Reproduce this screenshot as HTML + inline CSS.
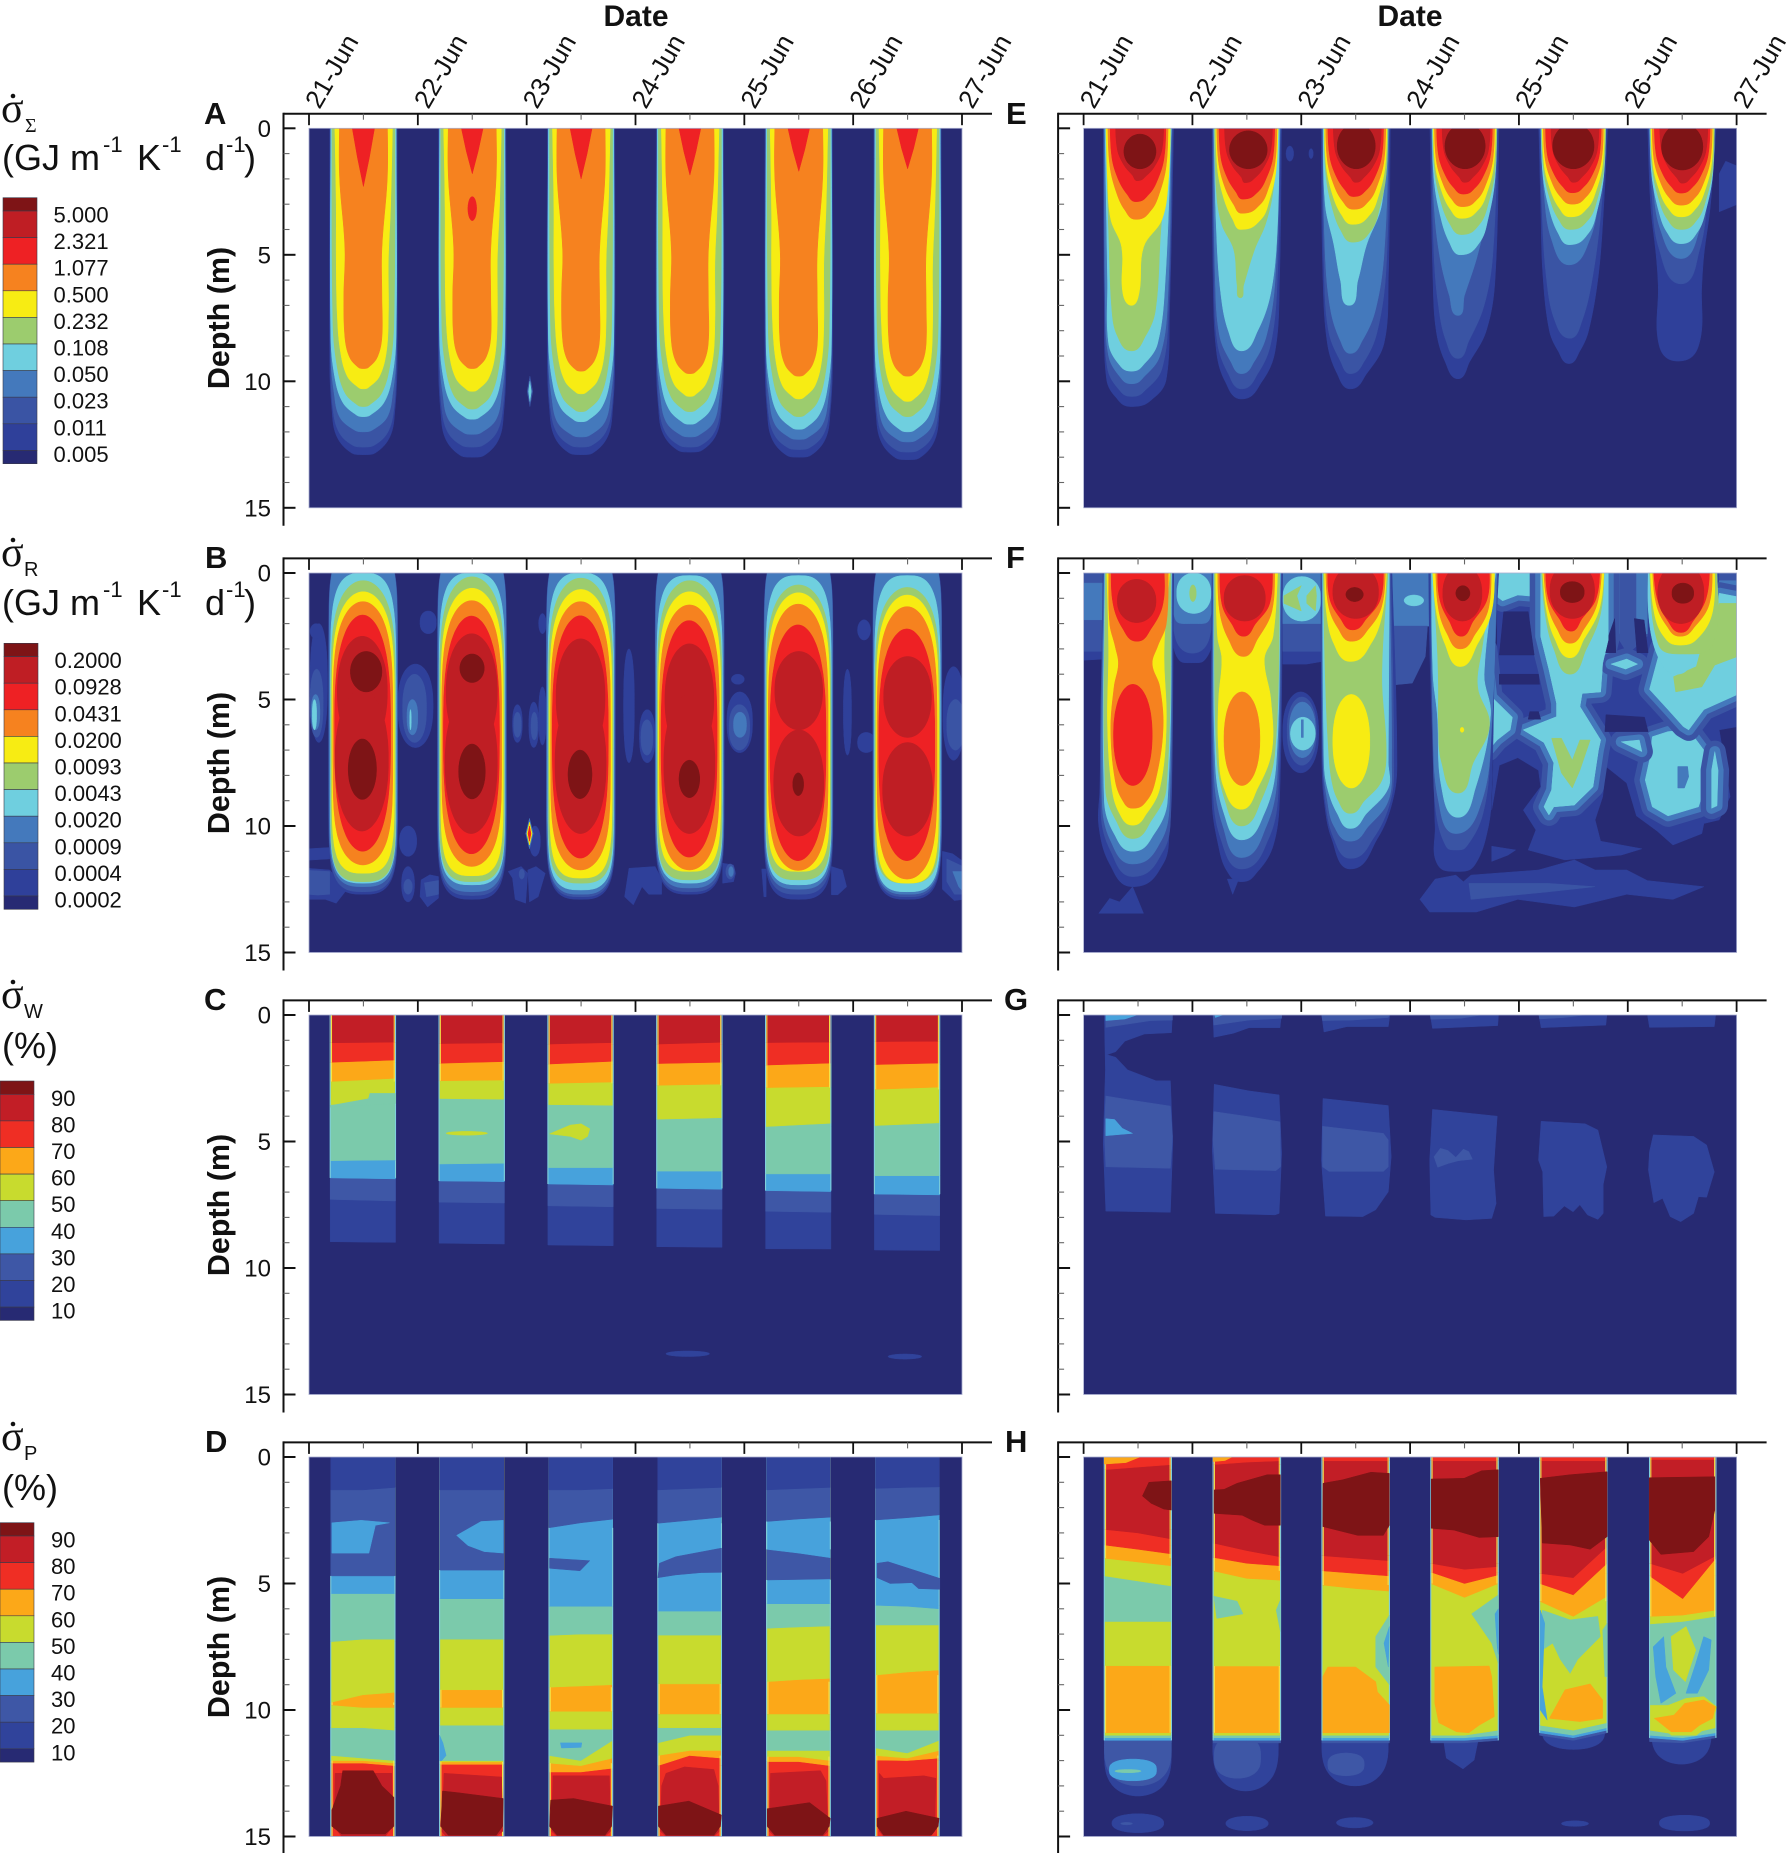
<!DOCTYPE html>
<html lang="en">
<head>
<meta charset="utf-8">
<title>Entropy production contour panels</title>
<style>
html,body{margin:0;padding:0;background:#fff;}
svg{display:block;}
text{font-family:"Liberation Sans",sans-serif;fill:#111;}
.ser{font-family:"Liberation Serif",serif;}
.b{font-weight:bold;}
</style>
</head>
<body>
<svg id="chart" xmlns="http://www.w3.org/2000/svg" width="1791" height="1853" viewBox="0 0 1791 1853">
<rect width="1791" height="1853" fill="#fff"/>
<text class="b" x="636" y="26" font-size="30" text-anchor="middle">Date</text>
<text class="b" x="1410" y="26" font-size="30" text-anchor="middle">Date</text>
<g font-size="31">
<text class="b" x="204" y="124">A</text>
<text class="b" x="205" y="568">B</text>
<text class="b" x="204" y="1010">C</text>
<text class="b" x="205" y="1452">D</text>
<text class="b" x="1006" y="124">E</text>
<text class="b" x="1006" y="568">F</text>
<text class="b" x="1004" y="1010">G</text>
<text class="b" x="1005" y="1452">H</text>
</g>
<g font-size="30.5">
<text class="b" transform="translate(229,318) rotate(-90)" text-anchor="middle">Depth (m)</text>
<text class="b" transform="translate(229,763) rotate(-90)" text-anchor="middle">Depth (m)</text>
<text class="b" transform="translate(229,1205) rotate(-90)" text-anchor="middle">Depth (m)</text>
<text class="b" transform="translate(229,1647) rotate(-90)" text-anchor="middle">Depth (m)</text>
</g>
<g>
<circle cx="13" cy="96" r="2.3" fill="#111"/>
<text class="ser" x="1" y="122" font-size="42">σ</text>
<text class="ser" x="25" y="132" font-size="20">Σ</text>
<text x="2" y="170" font-size="36">(GJ m</text>
<text x="103" y="152" font-size="22">-1</text>
<text x="137" y="170" font-size="36">K</text>
<text x="162" y="152" font-size="22">-1</text>
<text x="205" y="170" font-size="36">d</text>
<text x="226" y="152" font-size="22">-1</text>
<text x="244" y="170" font-size="36">)</text>
</g>
<g>
<circle cx="13" cy="540" r="2.3" fill="#111"/>
<text class="ser" x="1" y="566" font-size="42">σ</text>
<text x="24" y="576" font-size="20">R</text>
<text x="2" y="615" font-size="36">(GJ m</text>
<text x="103" y="597" font-size="22">-1</text>
<text x="137" y="615" font-size="36">K</text>
<text x="162" y="597" font-size="22">-1</text>
<text x="205" y="615" font-size="36">d</text>
<text x="226" y="597" font-size="22">-1</text>
<text x="244" y="615" font-size="36">)</text>
</g>
<g>
<circle cx="13" cy="982" r="2.3" fill="#111"/>
<text class="ser" x="1" y="1008" font-size="42">σ</text>
<text x="24" y="1018" font-size="20">W</text>
<text x="2" y="1058" font-size="36">(%)</text>
</g>
<g>
<circle cx="13" cy="1424" r="2.3" fill="#111"/>
<text class="ser" x="1" y="1450" font-size="42">σ</text>
<text x="24" y="1460" font-size="20">P</text>
<text x="2" y="1500" font-size="36">(%)</text>
</g>
</svg>
<script>
// Units used by all shape arrays: t = hundredths of a day since 21-Jun, d = decimetres of depth.
const dateLabels = ['21-Jun','22-Jun','23-Jun','24-Jun','25-Jun','26-Jun','27-Jun'];
const depthTicks = [0,5,10,15];
const legendSigma = ['5.000','2.321','1.077','0.500','0.232','0.108','0.050','0.023','0.011','0.005'];
const legendReversible = ['0.2000','0.0928','0.0431','0.0200','0.0093','0.0043','0.0020','0.0009','0.0004','0.0002'];
const legendPercent = ['90','80','70','60','50','40','30','20','10'];
const ratePalette = ['#272a73','#2f409a','#3a54a4','#4479bc','#6fcfdf','#9ccc6e','#f7ec13','#f6821f','#ee2124','#bf1e24','#7e1416'];
const pctPalette = ['#272a73','#30439b','#3e57a6','#47a2dc','#7bcaab','#c8db2e','#fca818','#ef2e24','#c21e26','#7e1416'];

/* ---------- Panel A: level, profile rows [% of bottom, left, right] ---------- */
const aProfiles = [
[1,[-5,19,81,72,19,81,86,21,79,94,25,75,99,37,63,100,50,50]],
[2,[-5,19.5,80.5,75,20,80,88,22,78,95,27,73,99,38,62,100,50,50]],
[3,[-5,20,80,75,20,80,87,23,77,95,28,72,99,40,60,100,50,50]],
[4,[-5,20,80,72,20,80,87,24,76,95,31,69,99,42,58,100,50,50]],
[5,[-5,21,79,70,22,78,86,26,74,95,33,67,99,43,57,100,50,50]],
[6,[-5,23.5,77,30,25,75,50,25,73,72,26,73,86,29,71,95,35,65,99,44,56,100,50,50]],
[7,[-5,28,72,20,28,72,50,33,67,70,32,67,87,33,67,95,37,63,99,44,56,100,50,50]]];
const aTips = [39,61,44.5,55.5,50];
const aBottoms = [
[129,130,129,128,130,131],[126,126,126,126,127,128],[120,121,122,122,123,124],
[114,115,116,117,119,120],[110,111,112,112,114,114],[103,104,105,106,107,108],
[95,95,96,97,98,98]];
const aTipDepths = [23,18,20,18.5,17,16];
const aExtras = [
['o',8,146,154,27,36.5,2],
['p',2,[203,98,205.5,104,203,110,200.5,104]],
['p',4,[203,100,204.3,104,203,108,201.7,104]]];

/* ---------- Panel B ---------- */
const bWidths = [[1,18,81.5],[2,18.2,81.3],[3,18.5,81],[4,19.5,80],[5,20,79.5],[6,21,78.5],[7,22,77],[8,23.5,75]];
const bTops = [[-10,-10,-10,-10,-10,-10],[-10,-10,-10,-10,-10,-10],[-10,-10,-10,-10,-10,-10],[0,0,0,1,1,1],[3,1.5,2,3,4.7,5.7],[7.4,6,6.5,7.4,7.8,8.7],[11.3,10.9,11.3,12.6,12.3,13.3],[16.6,17,16.9,18.8,20.5,22.1]];
const bBottoms = [[127,129,129,127,129,129],[126,127.5,128,126,127,128],[124,126,127,124.5,125,127],[122.6,123.3,125.3,122.6,123.3,126],[122,122,122.6,121.3,121.3,122.6],[118.7,119.7,120.6,118,118,122.6],[115.4,116,117.4,117.4,117.6,121],[110,111,112.7,112.3,113.7,113.7]];
const bTopExponents = [9,9,9,6,5,4.5,4,3];
const bBottomExponents = [9,9,9,9,9,7,5,3];
const bLobes = [[26,72,25,69],[24,73,46,102],[26,73,24,70],[25,73,47,103],[27,72,26,72],[26,73,48,103],[27,72,28,72],[26,73,48,103],[28,72,31,62],[27,73,62,104],[28,72,33,65],[27,73,67,104]];
const bDark = [[38,67,31,47,0],[36,62,65.6,89.5,0],[38.6,61,32,43.3,1],[37.5,62,67.6,89.3,1],[38,60,70,89.2,2],[40,59,74,88.8,3],[44.5,54.5,79,88,4]];
const bBackground = [
['p',1,[-1,116.7,19,117.4,35,125,25,130.5,15,129,-1,129]],['p',2,[-1,117.5,19,118,19,127,8,127.3,-1,127]],['p',1,[-1,109,19,108.5,19,113,-1,113.5]],
['o',1,85,97,116,130,2.2],['o',2,87,95,121,127,2],['o',1,83,99,100,112,2.2],
['p',1,[103,121.3,111,119.3,119,120,119,128.5,109,132,102,127.9]],['p',2,[106,122.5,119,121.5,119,127,108,128]],
['p',1,[183,118,195,116,201,118.7,199,130.5,189.5,129,187,120.6]],['p',1,[201,117.4,208.6,116,217,118.7,210.6,128,202.6,130]],['o',2,193,198,117,121,2],['o',1,202.6,212.6,100,112,2.2],
['p',1,[294,116.7,318,116,324,121,324,127,312,127,306,124,298,131.2,290,128]],
['p',1,[380,114.7,390,115.4,392,118.7,390,122,380,122.6]],['o',2,383,391,115,121,2],['o',3,385.5,390,116,120,2],
['p',1,[416,117,420,117,420,128,418,128]],['p',1,[480,116,490,117.4,494,124,486,127.2,480,127.2]],
['p',1,[582,110,591.5,111,601,114,601,129,593,129.5,582,125]],['p',2,[586,113,601,116,601,127,593,127,586,122]],['p',3,[591.5,118,601,118,601,126,597,124]],
['o',1,1,17,20,67,2.5],['o',2,1,13,38,65,2.5],['o',3,2,10,48,62,2.5],['o',4,3,7,50,62,2.5],
['o',1,81.6,114,36,69,2.5],['o',2,86,108,40,67,2.5],['o',3,90,100,50,64,2.5],['o',4,92.5,94,54,62,2],
['o',1,187,196,52,67,2.5],['o',2,188,195,55,65,2.5],['o',1,202,211,51,69,2.5],['o',2,204,210,55,66,2.5],['o',1,211,218,45,68,2.5],
['o',1,102,117,15,24,2.5],['o',1,1,12,20,26,2],['o',1,211,218,16,24,2],
['o',1,289,299,30,75,2.5],['o',1,303.6,318,54,75,2.5],['o',2,305,316,58,72,2.5],
['o',1,384,407.5,47,71,2.5],['o',2,386,405,52,70,2.5],['o',3,390,402,55,65,2.5],['o',1,388,400,40,44,2],
['o',1,491,498.5,38,72,2.5],['o',1,504,520,63,71,2.5],['o',1,504,516,18.5,26.5,2],
['o',1,582.5,602,37,74,2.5],['o',2,586,602,50,70,2.5]];
const bDiamond = [
['p',3,[202.6,97,206,103,202.6,109,199.2,103]],
['p',6,[202.6,98.5,205,103,202.6,107.5,200.2,103]],
['p',8,[202.6,100,204,103,202.6,106,201.2,103]]];

/* ---------- Panel C: per day [day, left, right, bands [level, dLeft, dRight]] ---------- */
const cStacks = [
[0,19.5,79.5,[[8,11,10.7],[7,18.7,17.8],[6,26.3,25],[5,35.6,31],[4,57.6,57.3],[3,64.4,64.8],[2,72.9,73.5],[1,89.6,89.9]]],
[1,19.5,79.5,[[8,11.3,11],[7,19.1,18.4],[6,26,25.7],[5,33,33.3],[4,58.9,58.6],[3,65.6,65.9],[2,74,74.3],[1,90.2,90.5]]],
[2,19.5,79.5,[[8,11.5,10.9],[7,19.4,18.3],[6,27,26.5],[5,35.4,35.7],[4,60.3,60.3],[3,66.8,67.2],[2,75.4,75.8],[1,90.9,91.2]]],
[3,19.5,79.5,[[8,11.5,10.8],[7,19.2,18.7],[6,27.8,27.3],[5,41.2,40.6],[4,61.7,61.7],[3,68.5,68.9],[2,76.5,76.8],[1,91.6,91.8]]],
[4,19.5,79.5,[[8,10.9,10.7],[7,19.8,19],[6,28.7,28.3],[5,44.1,42.8],[4,62.8,62.8],[3,69.4,69.8],[2,77.6,78],[1,92.4,92.5]]],
[5,19.5,79.5,[[8,10.5,10.4],[7,19.6,19],[6,29.4,28.5],[5,43.7,42.6],[4,63.5,63.5],[3,70.8,71.1],[2,78.8,79.3],[1,92.9,93.1]]]];
const cExtras = [
['p',4,[19.5,35.6,53,35.6,56,31,79.5,31,79.5,35,19.5,36.5]],
['o',5,126,164,46,47.5,2],
['p',5,[221,47,240,43.5,250,43,258,45,256,48,250,49.5,240,48]],
['o',1,328,368,132.8,135,2],['o',1,532,563,134,136,2]];

/* ---------- Panel D ---------- */
const dStacks = [
[0,20,79,[[1,13,13,12],[2,47,47,47],[3,54,54,54],[4,73,72,72],[5,97,94,93],[6,98,99,99],[5,107,107,108],[4,118,119,120],[5,120,120,121],[6,121,121,122],[7,152,152,152]]],
[1,20,79,[[1,13,13,13],[2,44.7,44.7,44.7],[3,56,56,56],[4,72,72,72],[5,92,92,92],[6,99,99,99],[5,106,106,106],[4,120,120,120],[5,120.5,120.5,120.5],[6,121.5,121.5,121.5],[7,152,152,152]]],
[2,20.5,79,[[1,13,13,12.5],[2,28,26,24.6],[3,59,59,59],[4,70.5,70,70],[5,91,90.5,90],[6,100.5,100.5,100.5],[5,107.6,107.6,107.6],[4,118,120,112],[5,121,122,119],[6,124.5,124.5,123],[7,152,152,152]]],
[3,20.5,79,[[1,13,12.5,12],[2,26.2,25,23.8],[3,60.9,60.9,60.9],[4,70.4,70.4,70.4],[5,89.7,89.7,89.7],[6,101.6,101.6,101.6],[5,107,107,107],[4,113,110,110],[5,118,116,116],[6,122,118,119],[7,152,152,152]]],
[4,20.5,79,[[1,13,12.5,12],[2,25.5,24.5,23.8],[3,36.5,38,39.8],[2,48.6,48.4,48.2],[3,58,58,58],[4,67.7,67.2,66.8],[5,88.8,88,87.5],[6,101.6,101.6,101.6],[5,108,108,108],[4,116,116,116],[5,118.4,118.4,120],[6,120.4,120.4,122],[7,152,152,152]]],
[5,20.5,79,[[1,12.4,12,11.8],[2,24.9,24,22.9],[3,58.6,59,60],[4,66.4,66.4,66.4],[5,86.2,85,84.2],[6,101.3,101.3,101.3],[5,108,108,108],[4,115,117,112],[5,118,119,116],[6,119.8,120,119],[7,152,152,152]]]];
const dExtras = [
['p',3,[21,26,48,25,74,26,61,27,55,38,21,38]],
['p',3,[135.6,31,158,25.5,178.5,25,178.5,38,161,37.4,146,35]],
['p',2,[221,40,258,41,249,45,221,44]],
['p',3,[231,113,250.7,113,250,114.8,232,115]],
['p',3,[120,110,123,113,126,118,122,120,120,120]],
['p',2,[322,42,337,39.4,379,36,379,45.6,360.5,45.7,337,46.6,320.6,47.7]],
['p',2,[522,42,532,41.4,579.6,48,579.6,52.3,560,52,554,49.7,534,50,522,47.7]],
['p',8,[24,125,76,125,77,146,70,150,30,150,23,146]],
['p',8,[124,125,177,126.5,178,148,172,150,126,150,122,148]],
['p',8,[224,126,276,126,277,148,272,150,228,150,223,148]],
['p',8,[324,130,328,125,345,122.5,372,123.5,376,130,377,148,372,150,328,150,323,148]],
['p',8,[424,125,470,124,475,128,477,148,472,150,428,150,423,148]],
['p',8,[524,125,528,127,565,126,576,127,575,148,570,150,528,150,524,148]],
['p',9,[31,124,59,124,67,130,78,134.5,78,146,70,149,30,149,21,146,21,139.5,29,130]],
['p',9,[122.7,132,137,132.7,178.5,135,178,146,172,149.5,128,149.5,121,146]],
['p',9,[222,135.6,243,135,279,138,278,146,272,149.5,228,149.5,221,146]],
['p',9,[321,138,349,136,379,141.5,378,146,372,149.5,328,149.5,321,146]],
['p',9,[421,139,460,136.6,479,142.8,478,146,472,149.5,428,149.5,421,146]],
['p',9,[522,142.8,548.5,140,579,142.8,578,146,572,149.5,528,149.5,522,146]]];

/* ---------- Panel E: [level, day, rows [d, left, right]] ---------- */
const eRows = [
[1,0,[-5,18,83,72,19,79,99,21,76,106,29,66,110,44,44]],[2,0,[-5,18.5,82,72,19.5,78,95,22,72,103,32,58,106,44,44]],
[3,0,[-5,19,81,70,20,77,90,23,70,98,33,56,101,44,44]],[4,0,[-5,19.5,81,60,22,75,85,23,68,93,32,56,96,44,44]],
[5,0,[-5,20,80.5,40,23,71,72,26,66,82,31,57,88,44,44]],[6,0,[-5,20.5,80,20,22,78,36,25,72,47,35,55,65,36,51,70,44,44]],
[1,1,[-5,18,82,60,19,80,88,22,76,100,30,64,107,45,45]],[2,1,[-5,18.5,81,60,20,78,85,23,72,97,33,60,103,45,45]],
[3,1,[-5,19,81,60,21,76,82,25,68,92,35,57,97,45,45]],[4,1,[-5,19.5,80,40,22,78,65,26,72,80,33,60,88,45,45]],
[5,1,[-5,20,80,25,22,74,38,27,67,48,38,57,62,41,47,67,44,44]],
[1,2,[-5,18,82,60,20,80,85,24,76,97,33,60,103,45,45]],[2,2,[-5,19,81,55,21,78,80,25,70,92,36,58,97,45,45]],
[3,2,[-5,19.5,81,50,22,76,72,27,68,84,36,56,89,45,45]],[4,2,[-5,20,80,30,22,74,46,30,60,60,36,52,70,44,44]],
[1,3,[-5,18,82,60,21,78,80,24,70,92,32,55,99,44,44]],[2,3,[-5,19,81,50,22,76,70,26,68,84,33,54,91,44,44]],
[3,3,[-5,19.5,80,30,22,72,50,27,62,66,36,50,74,44,44]],
[1,4,[-5,18,82,30,20,78,58,22,73,80,28,64,88,36,56,93,46,46]],[2,4,[-5,19,81,30,21,76,58,25,68,76,33,58,83,47,47]],
[3,4,[-5,19.5,80,25,23,74,44,30,65,54,46,46]],
[1,5,[-5,18,82,30,21,76,50,26,70,62,28,68,86,29,65,92,46,46]],[2,5,[-5,19,81,25,22,74,48,29,66,61.5,49,49]],
[3,5,[-5,19.5,80,20,23,75,40,30,66,51.5,49,49]]];
const eCaps = [
[4,20,80,[null,null,null,50,46,45.6],[47,45,45,46,46,49]],
[5,20.5,80,[null,null,45,42,40,40],[47,45,47,47,47,49]],
[6,21,79,[null,40,38,35.6,35,35],[47,44,47,47,47,49]],
[7,22,78,[36,33.6,32,31,30,30.4],[48,45,48,48,49,49]],
[8,24,76,[29,28,27,26,25.5,25.6],[48,46,48,49,49,49]],
[9,29,74,[20.7,21.5,21.4,21.4,21.4,21.7],[49,48,50,50,50,50]]];
const eCores = [[37,66.5,2.3,16],[134,168.7,1,16],[233,268,-2,16],[332,369,-2,16],[431,469,-2,16],[531,569,-2,16.5]];
const eExtras = [['p',1,[584,18,590,13,601,15,601,30,584,33]],['o',1,186,193,7,13,2],['o',1,207,211,8,12,2]];

/* ---------- Panel F: ordered shapes ---------- */
const fShapes = [
['p',1,[-1,-1,20,-1,20,34,-1,34.5]],['p',2,[-1,-1,20,-1,20,31,-1,31]],['p',3,[-1,4,20,4,20,18.5,-1,18.5]],
['r',1,0,[-5,80,120,25,82,119,34,87,112,35.5,100,100]],['r',2,0,[-5,80,120,25,84,116,31.7,100,100]],['r',3,0,[-5,80,120,18,84,116,20,100,100]],
['o',4,85.5,117,0,16,2.4],['o',5,97.4,103.5,4.7,11.3,2],
['p',1,[183,-1,219,-1,219,35,205,36,183,36]],['p',2,[183,-1,219,-1,219,31,183,31]],['p',3,[183,-1,219,-1,219,20,183,20]],
['o',4,183,218,1.4,19,2.4],['p',5,[184,9,200,5,196,9,200,15,184,12]],['p',5,[205,9,213,5,214,9,213,15,205,12]],
['o',1,183,216,47,79,2.3],['o',2,187,214,49,76,2.3],['o',3,189,213,51,73,2.3],['o',4,190,213,57,70,2],['p',3,[200,58,202,58,202,65,200,65]],
['p',3,[283,-1,318,-1,318,21,283,21]],['p',2,[283,21,316,21,314,33,302,43.5,283,44.3]],['o',4,294.5,312.5,8.7,13,2],
['p',1,[380,-1,601,-1,601,60.7,584,62,594,88.4,584,97.6,570,99,568,103,541.5,107.5,527,102,508,96,499,83,480,76.5,477,88.4,470,97.6,475,106,513,109,494,111.5,442,113.4,408.5,109.5,415.6,101.6,404,93.7,420,84.5,418,78,399,73,382,76,375,93.7,380,30]],
['p',1,[309,129,323,121,342,119.4,349,122,356,119.4,418,117.4,451,113.4,470,117.4,499,117.4,518,121.6,570,124,541.5,129,499,127,451,132,399,129,361,134,318,134]],
['p',2,[354,122.7,427.5,122.7,470,124,427.5,126,356,129]],
['p',2,[482,-1,518,-1,518,25,500,32,490,25,482,25]],['p',3,[482,-1,492,-1,492,24,482,24]],['p',3,[508,-1,518,-1,518,24,508,24]],
['p',2,[584,-1,601,-1,601,10,584,10]],['p',3,[584,3,601,3,601,10,584,10]],
['h',4,[380,-1,420,-1,418,9.4,399,8.7,385,11,380,9.4]],
['h',4,[420,-1,482,-1,482,26.5,477,35.7,475,47,458,47.6,456,52.8,475,66,473,70,468,84.5,451,91.7,432,92.4,427.5,95.6,423,92.4,430,85.8,432,75,423,67,404,62,434.6,56.8,434.6,51.5,427.5,38,420,25]],
['h',4,[370,30,375,49,394,57,392,62,380,66,372,70,360,60]],
['h',4,[522.5,64.7,537,62.7,556,62,570,70,570,85.8,565,92.4,537,96,522.5,92.4,516,81.8,520,74]],
['h',4,[520,46,530,30,570,29,580,22.5,584,8,601,9.4,601,48,570,54,556,62,551,60.7,537,54]],
['h',4,[580,70.6,583,78,582,92,577,93,577,78]],
['h',4,[484.5,36,499,34,509,36,498,38]],['h',4,[494,66.7,510.6,66,513,70.6]],
['p',0,[386,15.3,408.5,15.3,414,32.4,382,32.4]],['p',0,[382,40,418,40,419,44,382,44]],['p',0,[410,54.8,418,54.8,420,57.8,408.5,57.8]],
['p',0,[480,56,515.4,57,518.7,62.7,479,62.7]],['p',0,[477,31.5,488,18,489,31.5]],['p',0,[506,18,515,18.6,518.7,31.5,508.5,31.5]],
['p',4,[420,-1,482,-1,482,26.5,477,35.7,475,47,458,47.6,456,52.8,475,66,473,70,468,84.5,451,91.7,432,92.4,427.5,95.6,423,92.4,430,85.8,432,75,423,67,404,62,434.6,56.8,434.6,51.5,427.5,38,420,25]],
['p',5,[430,65.3,439,65.3,449,74,456,66,465.5,66,456,78,449,85,439,79]],
['p',3,[546,76.5,555,76.5,556,80.5,552,85,546,85]],['p',3,[541.5,30.7,565,30.7,553.5,33.7]],
['p',5,[580,22.5,584,12,601,12,601,33,580,36.4,568,45,544,47,542,41,563,37,568,29]],
['r',1,0,[-5,18,83,85,15,81,100,14,79,115,24,73,124,45,45]],['p',1,[45,124,55,134.5,14,134.5,24,128.6,33,130]],
['r',2,0,[-5,18.5,82,95,16,80,110,25,73,120,45,45]],['r',3,0,[-5,19,81,90,17,79,106,25,71,115,45,45]],
['r',4,0,[-5,19.5,81,90,19,77,103,28,65,110,45,45]],['r',5,0,[-5,20,80.5,85,20,76,98,30,62,105,45,45]],
['r',6,0,[-5,21,80,30,23,74,60,22,76,85,26,70,95,33,58,99.7,45,45]],
['r',7,0,[-5,23,78,20,24,76,29,29,68,36,32,63,45,28,70,62,25,73,82,29,66,90,36,58,93,45,45]],
['r',8,0,[-5,25,74,12,27,73,22,36,62,27,49,49]],['o',8,27.5,63,44,84,2.2],['o',9,31,66.5,2.5,19.6,2.2],
['r',1,1,[-5,18,83,90,18,80,108,24,74,118,32,60,122,45,45]],['p',1,[132,121,137,127,142.5,121]],
['r',2,1,[-5,18.5,82,85,19,79,105,26,70,117,45,45]],['r',3,1,[-5,19,81,80,20,78,100,28,68,112.5,45,45]],
['r',4,1,[-5,19.5,81,75,21,77,95,29,66,105.5,45,45]],['r',5,1,[-5,20,80.5,70,22,76,90,30,63,100,45,45]],
['r',6,1,[-5,21,79,25,23,74,34,27,66,50,24,72,70,24,73,85,29,60,93.4,45,45]],
['r',7,1,[-5,23,76,15,25,73,26,33,60,33,47,47]],['o',7,129,162,47,84,2.2],
['r',8,1,[-5,25,74,12,27,71,20,36,58,25,47,47]],['o',9,129,167,1,19,2.2],
['r',1,2,[-5,18,83,75,19,88,90,21,84,105,28,70,117,45,45]],['r',2,2,[-5,18.5,82,75,20,85,90,22,82,105,30,66,112.8,45,45]],
['r',3,2,[-5,19,81,75,20,83,90,24,80,100,30,62,106,45,45]],['r',4,2,[-5,19.5,81,75,21,80,85,24,80,95,33,60,101,45,45]],
['r',5,2,[-5,20,80.5,40,22,74,70,25,78,82,28,74,90,34,58,95,45,45]],
['r',6,2,[-5,21,79,15,23,75,28,30,64,35,45,45]],['o',6,229,263,48,85,2.2],
['r',7,2,[-5,22,78,13,25,74,22,34,62,27,46,46]],['r',8,2,[-5,24,76,10,26,73,18,36,60,22.5,47,47]],
['o',9,229,271,-3,18,2.2],['o',10,241,257,5.7,11.3,2],
['r',1,3,[-5,17,82,30,18,78,85,22,75,100,23,72,115,25,60,118,45,45]],['p',1,[375,108,397,109.5,390,111.5,375,114]],
['r',2,3,[-5,18,81,70,21,74,95,24,67,108,33,52,109.5,42,42]],['r',3,3,[-5,19,80,60,21,75,90,26,66,103,42,42]],
['r',4,3,[-5,19.5,80,40,21,68,56,25,74,85,29,60,96.6,44,44]],
['r',5,3,[-5,20,79,30,25,66,45,26,62,60,26,73,75,29,58,87,44,44]],
['r',6,3,[-5,20,78,15,24,75,28,32,62,37,46,46]],['r',7,3,[-5,23,75,14,26,72,24,34,60,30,46,46]],
['r',8,3,[-5,25,73,10,27,71,19,36,58,25,47,47]],['o',9,330,366,-3,19,2.2],['o',10,342,355,5,11,2],['o',6,346,349.5,61,63,2],
['r',5,4,[-5,20,79,16,24,75,30,32,62,40,47,47]],['r',6,4,[-5,21,79,14,25,74,26,33,60,33.5,47,47]],
['r',7,4,[-5,22,77,12,26,72,22,35,60,27.8,47,47]],['r',8,4,[-5,24,75,10,27,71,18,37,58,23,48,48]],
['o',9,428.5,469.5,-4,18,2.2],['o',10,438,460,3.4,11.7,2.4],
['r',4,5,[-5,18.5,82,20,20,80,35,30,60,40,45,45]],
['r',5,5,[-5,19,82,28,28,78,32,48,48]],['r',6,5,[-5,20,80,15,24,78,25,33,66,28.5,48,48]],
['r',7,5,[-5,22,78,12,26,75,21,36,62,25,48,48]],['r',8,5,[-5,23,76,10,27,72,19,37,60,23.5,49,49]],
['o',9,527.5,570,-4,20,2.2],['o',10,540.6,560.6,4,12,2.4]];

/* ---------- Panel G ---------- */
const gShapes = [
['p',1,[19,-1,81.7,-1,80.8,7,56,7.5,38,10.3,29.5,14.5,21.4,15.7,29.5,16.7,40.4,21.7,66.5,26,79.8,26,82,50.7,79.8,78,20.4,77.5,18,50.7,20,21.7]],
['p',2,[20,-1,81.7,-1,81.7,2,61.8,2.2,20.4,4.9]],['p',2,[20.4,32,42.8,33.6,79.8,36,81.7,48,79.8,60.6,20.4,60,19,45.5]],
['p',3,[20.4,41,28.5,41.3,35.6,44.8,45,46.8,20.4,47.7]],['p',3,[20.4,-1,56,-1,38,1.6,20.4,2.2]],
['p',1,[118.8,-1,182,-1,180.5,5,152,5,137.8,7.2,119.7,8.8]],['p',2,[118.8,-1,182,-1,182,1.3,152,2,119.7,4]],['p',3,[120,-1,135,-1,121,1]],
['p',1,[120,27.4,152,30,179.6,31.6,182,54.7,179.6,78.4,175.8,79,121,78.4,118.3,53.4]],['p',2,[119.7,38.2,152,40.2,180.5,42.2,181,60,176.7,61.5,121,61,118.8,49.4]],
['p',1,[218.5,-1,281.7,-1,280,4.6,242,4.6,220.9,6.7]],['p',2,[218.5,-1,281.7,-1,280,1,247,2,219.5,2.2]],
['p',1,[220,33,280,35.8,282.6,56,280,69.9,268.4,77,256.5,79.7,222.3,79.5,218.5,57.3]],['p',2,[219.5,44,275.5,46.8,280,49.4,280,60,275.5,61.8,225.6,61.8,219.5,60]],
['p',1,[318.2,-1,381.4,-1,380.5,4.2,320.6,5.3]],['p',2,[318.2,-1,380,-1,346.8,1.3,319,1.7]],
['p',1,[320.6,37.3,380,40,376.7,61.3,379,74.5,375,80.4,351.5,81,323,80,319,79,318,57.3]],['p',2,[322,56,327.8,52.7,334.9,53.6,342,56.3,349,53,353.9,54,357.2,57,344.4,57.6,334.9,58.7,325.4,60.2]],
['p',1,[418,-1,481,-1,479.8,4,420.4,5]],['p',2,[418,-1,479.8,-1,441.8,1,419,1.6]],
['p',1,[420.4,42,460.8,43,472.6,45.5,480.7,60,477.4,67,477.4,78.4,472.6,80.8,463,79,456,75,449.8,77.8,441.8,75.5,432,79.5,422.8,79.7,421.8,62,418,57.3]],
['p',1,[517.8,-1,581,-1,579.5,4.6,520,4.9]],
['p',1,[523.5,47.4,560.5,48,572.4,51.4,579.5,62,572.4,72,565,71.8,560.5,78.4,548.6,81.7,539,79.7,532,72.5,524,74.2,519,61.3,520,54]]];

/* ---------- Panel H ---------- */
const hUnder = [
['o',1,19,80.7,95,134,3.5],['o',2,19,80.7,95,130,3.5],['o',3,23.6,67,119.4,128,3],['o',4,28.7,52.8,123.5,124.8,2],
['o',1,118.7,179,95,132,3],['o',2,120,162.7,110,127,3],
['o',1,218.8,280,95,130,3],['o',2,224.4,257.8,117,126,3],
['p',1,[330,110,363.5,110,358.8,119.8,348.6,123.3,333.3,119]],
['o',1,421.4,479,100,115.6,3],['o',1,522,576.7,95,121.4,3],
['o',1,26,73.7,141,148.5,2.4],['o',2,34,45,144.4,145.4,2],['o',1,130.7,169.7,142,147.7,2.2],['o',1,232.3,266,142.5,146.6,2],['o',1,439,464,143.8,146,2],['o',1,529,575.3,141.6,147.8,2.6]];
const hStacks = [
[0,19,80.7,[[7,5,4,3],[8,28.6,30,32.4],[7,34.8,36.5,38.3],[6,40,41.5,43],[5,47,49,51],[4,65,65,65],[5,82.5,82.5,82.5],[6,109,109,109],[5,110,110,110],[4,111,111,111],[3,112,112,112],[2,113,113,113]]],
[1,19,81,[[7,3,2,1.5],[8,34,37,39.5],[7,39.7,42,43],[6,45,48,48.7],[5,82.6,82.6,82.6],[6,109,109,109],[5,110,110,110],[4,111,111,111],[3,112,112,112],[2,113,113,113]]],
[2,19,81,[[7,1.5,1.5,1.5],[8,39,40,41],[7,45,46,47],[6,50.6,52,53],[5,109,109,109],[5,110,110,110],[4,111,111,111],[3,112,112,112],[2,113,113,113]]],
[3,19,81,[[7,1.5,1.5,1.5],[8,42,44.4,43.3],[7,45.5,50,46.6],[6,50,55.5,50],[5,110,110,108],[4,111,111,110],[3,112,112,111],[2,113,113,112]]],
[4,19,81,[[7,1.5,1.5,1.5],[8,46,47.7,35.4],[7,50,54.5,42],[6,57,63,55],[5,106,108,105],[4,108,110,107],[3,109,111,108],[2,110,112,109]]],
[5,20,81,[[7,1,1,1],[8,42,46,39],[7,47,56,40],[6,63,62.5,60.5],[5,66,65,63],[4,98,98,98],[5,108,110,107],[4,110,111,109],[3,111,112,110],[2,112.5,113,111]]]];
const hExtras = [
['p',6,[19,-1,57.5,-1,39,2.2,19,2.8]],['p',6,[119,-1,141,-1,130,1.4,119,1.8]],
['p',9,[60,10,80.7,9.4,80.7,21,73.7,20.6,62,18.3,54,15.4]],
['p',9,[120,13,129,12.8,141,10.4,168.8,7,180.8,7,180.8,27,166.4,27,155,25,145.6,23,120,22.3]],
['p',4,[119.6,55,141,57,146.5,62,122.4,63.8]],['p',4,[180.8,56.5,177,60.5,180.8,69]],
['p',9,[220,10.4,238,9,264,6,281,6.5,281,27,275.4,31,252,31,219.8,27.5]],
['p',6,[219.8,109,219.8,86.8,224.4,83,250,83,268.4,88.8,270,92.8,281,98,281,109]],
['p',4,[281,62.5,268.4,71,268.4,83,281,90]],['p',3,[281,67,276,73.6,280,83]],
['p',9,[319.4,8.7,349.6,8.4,365.8,5.4,381,5,381,31.5,363.5,31.8,340.3,28.9,319.4,28.2]],
['p',6,[322.7,83,372.7,82.6,375,86.8,377.4,102.6,363.5,106,354,109,342.6,108.6,326.4,105,322.7,97.4]],
['p',4,[381,54.5,356.5,62,375,73.6,381,81.6]],['p',3,[381,60,378,62,380,75,381,78]],
['p',9,[419.6,8.4,447,7,481,5.8,481,31.5,465.5,36.5,447,34.8,421.4,34]],
['p',4,[421.4,60.5,447,64.4,472.5,63,474.8,71,454,80,447,85.5,438,80,431,73.6,421.4,76.3]],
['p',3,[419.6,60.5,423.7,65.7,421.4,90.8,426,104,419.6,100]],['p',4,[481,65.7,477,68.4,479,86.8,481,86.8]],
['p',6,[428,103.3,442.3,92,465.5,89.7,476.9,96,476.9,103.3,456,104.6]],
['p',9,[519.7,8.2,580,7.8,580,21,574.4,31.5,560.5,37.4,530.4,38.5,519.7,32.8]],
['p',5,[539.7,71,553.5,67,562.5,76.3,553,88.8,542,84.2]],
['p',3,[523.4,75,533,71,535,83,544.2,93.4,530.4,97.4,525.7,86.8]],
['p',3,[569.8,71,576.7,72.3,574.4,84.2,564,93.4,553.5,93.4,562.5,81.6]],
['p',5,[521,102.6,530.4,99.3,553.5,95.4,570,94.7,581.4,98.7,579,104.6,563,110,540,110]],
['p',6,[524.4,103.3,542.4,102,552.3,97.4,570,96,580.5,98.7,578,103.3,566,106,558.5,108.6,540,108.6]]];

/* ---------- Drawing ---------- */
const NS = 'http://www.w3.org/2000/svg';
const root = document.getElementById('chart');
const panels = {
  A:{left:309,top:128.3,pal:ratePalette,labels:true},B:{left:309,top:573,pal:ratePalette,labels:true},
  C:{left:309,top:1015,pal:pctPalette,labels:true},D:{left:309,top:1457,pal:pctPalette,labels:true},
  E:{left:1083.6,top:128.3,pal:ratePalette,labels:false},F:{left:1083.6,top:573,pal:ratePalette,labels:false},
  G:{left:1083.6,top:1015,pal:pctPalette,labels:false},H:{left:1083.6,top:1457,pal:pctPalette,labels:false}};
const plotW = 653, plotH = 379.5;

function svgEl(tag, parent, name) {
  const el = document.createElementNS(NS, tag);
  
  
  parent.appendChild(el);
  return el;
}
function xAxis(p, t) { return p.left + t / 600 * plotW; }
function yAxis(p, d) { return p.top + d / 150 * plotH; }

function openSmooth(pts) {
  const n = pts.length;
  const tan = pts.map((q, i) => {
    const a = pts[Math.max(0, i - 1)], c = pts[Math.min(n - 1, i + 1)];
    const dx = c[0] - a[0], dy = c[1] - a[1], len = Math.hypot(dx, dy) || 1;
    return [dx / len, dy / len];
  });
  const isTip = i => i > 0 && i < n - 1 && Math.abs(tan[i][1]) < 0.05;
  let s = 'M' + pts[0][0].toFixed(1) + ' ' + pts[0][1].toFixed(1);
  for (let i = 0; i < n - 1; i++) {
    const b = pts[i], c = pts[i + 1], seg = Math.hypot(c[0] - b[0], c[1] - b[1]) * 0.36;
    const dx = Math.abs(c[0] - b[0]);
    const h1 = isTip(i) ? Math.max(seg, dx * 0.62) : seg;
    const h2 = isTip(i + 1) ? Math.max(seg, dx * 0.62) : seg;
    s += 'C' + (b[0] + tan[i][0] * h1).toFixed(1) + ' ' + (b[1] + tan[i][1] * h1).toFixed(1) + ' ' +
      (c[0] - tan[i + 1][0] * h2).toFixed(1) + ' ' + (c[1] - tan[i + 1][1] * h2).toFixed(1) + ' ' + c[0].toFixed(1) + ' ' + c[1].toFixed(1);
  }
  return s + 'Z';
}
function straight(pts) {
  return 'M' + pts.map(q => q[0].toFixed(1) + ' ' + q[1].toFixed(1)).join('L') + 'Z';
}
function drawPath(g, p, level, d, name) {
  const path = svgEl('path', g, name);
  path.setAttribute('d', d);
  path.setAttribute('fill', p.pal[level]);
  path.setAttribute('stroke', p.pal[level]);
  path.setAttribute('stroke-width', '0.5');
  path.setAttribute('stroke-linejoin', 'round');
  return path;
}
function drawRows(g, p, level, day, rows, name) {
  const l = [], r = [];
  for (let i = 0; i < rows.length; i += 3) {
    const y = yAxis(p, rows[i]);
    l.push([xAxis(p, day * 100 + rows[i + 1]), y]);
    if (rows[i + 1] !== rows[i + 2]) r.unshift([xAxis(p, day * 100 + rows[i + 2]), y]);
  }
  drawPath(g, p, level, openSmooth(l.concat(r)), name);
}
function ovalHalf(u, k, q) {
  return Math.pow(Math.max(0, 1 - Math.pow(Math.abs(u), k)), 1 / q);
}
function drawOval(g, p, level, tl, tr, top, bot, k, name, kTop) {
  const cx = (tl + tr) / 2, a = (tr - tl) / 2, cy = (top + bot) / 2, b = (bot - top) / 2, pts = [];
  const upper = kTop === undefined ? k : kTop, steps = 60;
  const shape = u => {
    const kk = u < 0 ? upper : k;
    return ovalHalf(u, kk, kk >= 6 ? 3 : 2);
  };
  for (let i = 0; i <= steps; i++) {
    const u = Math.sin(-Math.PI / 2 + Math.PI * i / steps);
    pts.push([xAxis(p, cx - a * shape(u)), yAxis(p, cy + b * u)]);
  }
  for (let i = steps - 1; i > 0; i--) {
    const u = Math.sin(-Math.PI / 2 + Math.PI * i / steps);
    pts.push([xAxis(p, cx + a * shape(u)), yAxis(p, cy + b * u)]);
  }
  drawPath(g, p, level, straight(pts), name);
}
function polyPoints(p, flat) {
  const pts = [];
  for (let i = 0; i < flat.length; i += 2) pts.push([xAxis(p, flat[i]), yAxis(p, flat[i + 1])]);
  return pts;
}
function drawShapes(g, p, list, name) {
  list.forEach(s => {
    if (s[0] === 'p') drawPath(g, p, s[1], straight(polyPoints(p, s[2])), name);
    if (s[0] === 'r') drawRows(g, p, s[1], s[2], s[3], name);
    if (s[0] === 'o') drawOval(g, p, s[1], s[2], s[3], s[4], s[5], s[6], name);
    if (s[0] === 'h') {
      const d = straight(polyPoints(p, s[2]));
      const outer = drawPath(g, p, 2, d, name + '-halo');
      outer.setAttribute('stroke-width', '22');
      const inner = drawPath(g, p, 3, d, name + '-halo');
      inner.setAttribute('stroke', p.pal[3]);
      inner.setAttribute('stroke-width', '11');
      drawPath(g, p, s[1], d, name);
    }
  });
}
function drawEdge(g, p, t, y1, y2, color, w, name) {
  const edge = svgEl('line', g, name);
  edge.setAttribute('x1', xAxis(p, t));
  edge.setAttribute('x2', xAxis(p, t));
  edge.setAttribute('y1', y1);
  edge.setAttribute('y2', y2);
  edge.setAttribute('stroke', color);
  edge.setAttribute('stroke-width', w);
}
function drawStacks(g, p, stacks, name) {
  stacks.forEach(st => {
    const day = st[0], l = day * 100 + st[1], r = day * 100 + st[2], bands = st[3];
    for (let i = bands.length - 1; i >= 0; i--) {
      const b = bands[i];
      const dL = b[1], dM = b.length > 3 ? b[2] : (b[1] + b[2]) / 2, dR = b.length > 3 ? b[3] : b[2];
      drawPath(g, p, b[0], straight(polyPoints(p, [l, -5, r, -5, r, dR, (l + r) / 2, dM, l, dL])), name);
    }
    let prev = 0;
    bands.forEach(b => {
      const y1 = yAxis(p, prev), y2 = yAxis(p, Math.min(150, b[1]));
      if (b[0] >= 3) {
        drawEdge(g, p, l, y1, y2, '#7fd0dc', 1.1, name + '-edge');
        drawEdge(g, p, r, y1, y2, '#7fd0dc', 1.1, name + '-edge');
      }
      if (b[0] >= 6) {
        drawEdge(g, p, l + 1.2, y1, y2, '#f4e84a', 1, name + '-edge');
        drawEdge(g, p, r - 1.2, y1, y2, '#f4e84a', 1, name + '-edge');
      }
      prev = b[1];
    });
  });
}

const painters = {
  A(g, p) {
    aProfiles.forEach((entry, li) => {
      aBottoms[li].forEach((bottom, day) => {
        const rows = entry[1].slice();
        for (let i = 0; i < rows.length; i += 3) rows[i] = rows[i] / 100 * bottom;
        drawRows(g, p, entry[0], day, rows, 'contour-total-level-' + entry[0]);
      });
    });
    aTipDepths.forEach((tip, day) => {
      const o = day * 100;
      const flat = [o + aTips[0], -2, o + aTips[1], -2, o + aTips[3], tip * 0.5, o + aTips[4], tip, o + aTips[2], tip * 0.5];
      drawPath(g, p, 8, straight(polyPoints(p, flat)), 'contour-total-level-8');
    });
    drawShapes(g, p, aExtras, 'contour-total-patch');
  },
  B(g, p) {
    drawShapes(g, p, bBackground, 'contour-reversible-patch');
    bWidths.forEach((w, li) => {
      for (let day = 0; day < 6; day++) {
        drawOval(g, p, w[0], day * 100 + w[1], day * 100 + w[2], bTops[li][day], bBottoms[li][day], bBottomExponents[li], 'contour-reversible-level-' + w[0], bTopExponents[li]);
      }
    });
    bLobes.forEach((b, i) => {
      const day = Math.floor(i / 2);
      drawOval(g, p, 9, day * 100 + b[0], day * 100 + b[1], b[2], b[3], 2.2, 'contour-reversible-lobe');
    });
    bDark.forEach(b => {
      drawOval(g, p, 10, b[4] * 100 + b[0], b[4] * 100 + b[1], b[2], b[3], 2, 'contour-reversible-core');
    });
    drawShapes(g, p, bDiamond, 'contour-reversible-spot');
  },
  C(g, p) { drawStacks(g, p, cStacks, 'contour-water-band'); drawShapes(g, p, cExtras, 'contour-water-patch'); },
  D(g, p) { drawStacks(g, p, dStacks, 'contour-particle-band'); drawShapes(g, p, dExtras, 'contour-particle-patch'); },
  E(g, p) {
    drawShapes(g, p, eExtras, 'contour-total-patch');
    eRows.forEach(r => drawRows(g, p, r[0], r[1], r[2], 'contour-total-level-' + r[0]));
    eCaps.forEach(c => {
      c[3].forEach((b, day) => {
        if (b === null) return;
        drawRows(g, p, c[0], day, [-5, c[1], c[2], 0.4 * b, c[1] + 2, c[2] - 2, 0.7 * b, c[1] + 8, c[2] - 8, 0.9 * b, c[1] + 16, c[2] - 16, b, c[4][day], c[4][day]], 'contour-total-level-' + c[0]);
      });
    });
    eCores.forEach(c => drawOval(g, p, 10, c[0], c[1], c[2], c[3], 2, 'contour-total-core'));
  },
  F(g, p) { drawShapes(g, p, fShapes, 'contour-reversible-region'); },
  G(g, p) { drawShapes(g, p, gShapes, 'contour-water-region'); },
  H(g, p) { drawShapes(g, p, hUnder, 'contour-particle-under'); drawStacks(g, p, hStacks, 'contour-particle-band'); drawShapes(g, p, hExtras, 'contour-particle-region'); }
};

function line(g, x1, y1, x2, y2, w, color, name) {
  const l = svgEl('line', g, name);
  l.setAttribute('x1', x1); l.setAttribute('y1', y1); l.setAttribute('x2', x2); l.setAttribute('y2', y2);
  l.setAttribute('stroke', color); l.setAttribute('stroke-width', w);
}

Object.keys(panels).forEach(key => {
  const p = panels[key];
  const g = svgEl('g', root, 'panel-' + key.toLowerCase());
  const clip = svgEl('clipPath', g, 'plot-clip');
  clip.setAttribute('id', 'clip' + key);
  const cr = svgEl('rect', clip, 'plot-clip-area');
  cr.setAttribute('x', p.left); cr.setAttribute('y', p.top); cr.setAttribute('width', plotW); cr.setAttribute('height', plotH);
  const area = svgEl('g', g, 'contour-area');
  area.setAttribute('clip-path', 'url(#clip' + key + ')');
  const bg = svgEl('rect', area, 'plot-background');
  bg.setAttribute('x', p.left); bg.setAttribute('y', p.top); bg.setAttribute('width', plotW); bg.setAttribute('height', plotH);
  bg.setAttribute('fill', p.pal[0]);
  painters[key](area, p);
  const border = svgEl('rect', g, 'plot-border');
  border.setAttribute('x', p.left); border.setAttribute('y', p.top); border.setAttribute('width', plotW); border.setAttribute('height', plotH);
  border.setAttribute('fill', 'none'); border.setAttribute('stroke', '#a9aed0'); border.setAttribute('stroke-width', '0.8');

  const axX = p.left - 25.5, axTop = p.top - 14.6;
  line(g, axX, axTop, p.left + plotW + 30, axTop, 2, '#111', 'top-axis-line');
  line(g, axX, axTop - 1, axX, p.top + plotH + 18, 2, '#111', 'depth-axis-line');
  for (let i = 0; i <= 12; i++) {
    const x = xAxis(p, i * 50);
    if (i % 2 === 0) line(g, x, axTop, x, axTop + 11.5, 1.8, '#111', 'date-major-tick');
    else if (i < 12) line(g, x, axTop, x, axTop + 6, 1.1, '#666', 'date-minor-tick');
  }
  for (let m = 0; m <= 15; m++) {
    const y = yAxis(p, m * 10);
    if (m % 5 === 0) line(g, axX, y, axX + 12, y, 2, '#111', 'depth-major-tick');
    else line(g, axX, y, axX + 6, y, 1.1, '#666', 'depth-minor-tick');
  }
  if (p.labels) {
    depthTicks.forEach(t => {
      const txt = svgEl('text', g, 'depth-tick-label');
      txt.setAttribute('x', 271); txt.setAttribute('y', yAxis(p, t * 10) + 8.5);
      txt.setAttribute('text-anchor', 'end'); txt.setAttribute('font-size', '24');
      txt.textContent = t;
    });
  }
  if (key === 'A' || key === 'E') {
    dateLabels.forEach((lab, i) => {
      const txt = svgEl('text', g, 'date-tick-label');
      txt.setAttribute('transform', 'translate(' + (xAxis(p, i * 100) + 10.5) + ',110) rotate(-60)');
      txt.setAttribute('font-size', '26');
      txt.textContent = lab;
    });
  }
});

function legend(name, x0, top, labels, palette, labelX) {
  const g = svgEl('g', root, name);
  const colors = palette.slice().reverse();
  const half = 13.3, cell = 26.6, w = 34;
  let y = top;
  colors.forEach((c, i) => {
    const h = (i === 0 || i === colors.length - 1) ? half : cell;
    const r = svgEl('rect', g, 'legend-swatch');
    r.setAttribute('x', x0); r.setAttribute('y', y); r.setAttribute('width', w); r.setAttribute('height', h);
    r.setAttribute('fill', c); r.setAttribute('stroke', '#3a3a4a'); r.setAttribute('stroke-width', '0.6');
    y += h;
  });
  labels.forEach((lab, i) => {
    const t = svgEl('text', g, 'legend-label');
    t.setAttribute('x', labelX); t.setAttribute('y', top + half + 3.5 + 8 + i * cell);
    t.setAttribute('font-size', '22');
    t.textContent = lab;
  });
}
legend('legend-total', 3, 197.7, legendSigma, ratePalette, 53.5);
legend('legend-reversible', 4, 643.3, legendReversible, ratePalette, 54.5);
legend('legend-water', 0, 1081, legendPercent, pctPalette, 51);
legend('legend-particle', 0, 1522.7, legendPercent, pctPalette, 51);
</script>
</body>
</html>
